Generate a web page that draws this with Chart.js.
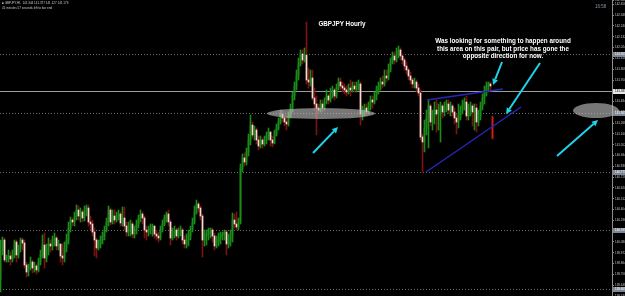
<!DOCTYPE html>
<html>
<head>
<meta charset="utf-8">
<script src="https://cdn.jsdelivr.net/npm/chart.js@4.4.1/dist/chart.umd.min.js"></script>
<style>
body { margin: 0; background: #000; }
#wrap { position: relative; width: 625px; height: 296px; overflow: hidden; background: #000; }
#price-chart { position: absolute; left: 0; top: 0; }
.note { position: absolute; color: #fff; font: bold 6.3px "Liberation Sans", Arial, sans-serif; white-space: nowrap; text-align: center; line-height: 7.5px; }
.info { position: absolute; color: #c8c8c8; font: 3px "Liberation Sans", Arial, sans-serif; white-space: nowrap; line-height: 4px; }
</style>
</head>
<body>
<div id="wrap">
  <canvas id="price-chart" width="625" height="296"></canvas>
  <div class="note" style="left:302px;top:20px;width:80px;">GBPJPY Hourly</div>
  <div class="note" style="left:423px;top:37px;width:160px;">Was looking for something to happen around<br>this area on this pair, but price has gone the<br>opposite direction for now.</div>
  <div class="info" style="left:2px;top:1px;">&#9632; GBPJPY,H1 &nbsp;141.344 141.377 141.127 141.179</div>
  <div class="info" style="left:2px;top:6px;">41 minutes 57 seconds left to bar end</div>
  <div class="info" style="left:595px;top:5px;color:#8a96a4;font-size:4.5px;">16:58</div>
</div>
<script>
// GBPJPY H1 candles, one per bar
const closes = [
  140.00,140.10,139.90,139.92,139.94,139.91,139.95,140.08,139.95,140.02,
  140.10,140.07,139.85,139.78,139.82,139.88,139.82,139.84,139.80,139.88,
  139.95,140.05,139.92,140.00,140.06,140.04,140.10,140.12,140.04,140.06,
  139.94,139.92,140.02,140.10,140.22,140.30,140.28,140.34,140.40,140.34,
  140.38,140.32,140.40,140.42,140.28,140.26,140.18,140.10,140.02,140.06,
  140.10,140.14,140.20,140.28,140.40,140.28,140.34,140.30,140.34,140.36,
  140.27,140.32,140.24,140.18,140.22,140.26,140.16,140.20,140.26,140.32,
  140.36,140.32,140.20,140.18,140.20,140.22,140.24,140.16,140.14,140.12,
  140.20,140.26,140.32,140.36,140.28,140.12,140.16,140.20,140.14,140.18,
  140.20,140.10,140.06,140.10,140.14,140.20,140.28,140.38,140.46,140.42,
  140.34,140.10,140.14,140.16,140.18,140.20,140.14,140.04,140.08,140.12,
  140.14,140.16,140.18,140.06,140.10,140.14,140.30,140.26,140.23,140.28,
  140.82,140.92,140.88,140.98,141.10,141.25,141.15,141.20,141.10,141.04,
  141.10,141.06,141.10,141.14,141.18,141.10,141.07,141.16,141.22,141.28,
  141.36,141.32,141.28,141.26,141.34,141.42,141.54,141.64,141.74,141.86,
  141.96,141.90,141.95,141.70,141.68,141.72,141.52,141.46,141.42,141.40,
  141.46,141.42,141.48,141.54,141.50,141.56,141.60,141.54,141.62,141.68,
  141.64,141.62,141.60,141.58,141.62,141.60,141.64,141.61,141.64,141.66,
  141.36,141.40,141.42,141.38,141.44,141.50,141.48,141.54,141.60,141.64,
  141.68,141.66,141.74,141.72,141.80,141.88,141.94,141.90,141.96,142.00,
  141.94,141.90,141.84,141.80,141.74,141.70,141.66,141.68,141.62,141.57,
  141.13,141.08,141.22,141.32,141.44,141.28,141.34,141.40,141.36,141.40,
  141.44,141.38,141.44,141.46,141.40,141.44,141.38,141.32,141.28,141.34,
  141.40,141.46,141.48,141.34,141.40,141.44,141.38,141.42,141.28,141.34,
  141.44,141.52,141.60,141.64,141.66,141.64,141.12
];
const highs = [
  140.10,140.13,140.12,139.95,140.00,139.98,140.00,140.10,140.10,140.05,
  140.12,140.12,140.10,139.88,139.86,139.93,139.90,139.88,139.86,139.92,
  140.00,140.15,140.17,140.06,140.12,140.10,140.14,140.17,140.14,140.10,
  140.06,140.06,140.08,140.16,140.28,140.33,140.32,140.38,140.45,140.44,
  140.42,140.40,140.44,140.45,140.45,140.34,140.30,140.22,140.12,140.10,
  140.14,140.18,140.24,140.32,140.44,140.42,140.40,140.40,140.38,140.40,
  140.38,140.43,140.43,140.28,140.28,140.30,140.28,140.24,140.30,140.35,
  140.40,140.38,140.34,140.24,140.24,140.26,140.26,140.24,140.20,140.18,
  140.24,140.30,140.35,140.38,140.40,140.30,140.22,140.24,140.22,140.22,
  140.24,140.22,140.14,140.16,140.20,140.24,140.32,140.44,140.50,140.48,
  140.44,140.36,140.20,140.20,140.22,140.22,140.22,140.17,140.14,140.17,
  140.18,140.18,140.20,140.20,140.16,140.20,140.37,140.36,140.38,140.32,
  140.86,140.96,140.97,141.02,141.16,141.35,141.28,141.24,141.22,141.14,
  141.14,141.12,141.14,141.18,141.22,141.18,141.14,141.20,141.26,141.32,
  141.40,141.40,141.34,141.34,141.38,141.46,141.58,141.68,141.80,141.92,
  142.00,142.00,142.02,142.28,141.82,141.80,141.80,141.62,141.54,141.46,
  141.50,141.50,141.52,141.60,141.56,141.62,141.64,141.62,141.66,141.72,
  141.72,141.68,141.66,141.64,141.66,141.70,141.68,141.68,141.68,141.70,
  141.68,141.44,141.46,141.46,141.48,141.54,141.54,141.58,141.64,141.68,
  141.72,141.74,141.80,141.80,141.86,141.92,141.98,141.98,142.02,142.04,
  142.02,141.96,141.92,141.88,141.82,141.78,141.72,141.72,141.70,141.66,
  141.60,141.16,141.30,141.40,141.50,141.46,141.40,141.48,141.50,141.46,
  141.48,141.46,141.48,141.50,141.50,141.48,141.46,141.42,141.36,141.46,
  141.44,141.50,141.52,141.54,141.46,141.48,141.46,141.46,141.46,141.40,
  141.48,141.56,141.64,141.68,141.68,141.68,141.34
];
const lows = [
  139.58,139.95,139.88,139.88,139.88,139.85,139.88,139.92,139.88,139.92,
  139.98,140.00,139.82,139.73,139.74,139.80,139.77,139.78,139.76,139.78,
  139.85,139.92,139.82,139.88,139.95,139.98,140.00,140.04,140.00,140.00,
  139.88,139.85,139.88,139.98,140.06,140.18,140.24,140.24,140.30,140.30,
  140.28,140.28,140.29,140.34,140.24,140.20,140.14,139.94,139.92,140.00,
  140.02,140.06,140.10,140.18,140.24,140.25,140.26,140.26,140.28,140.30,
  140.24,140.24,140.20,140.14,140.14,140.14,140.12,140.12,140.16,140.22,
  140.28,140.26,140.12,140.10,140.14,140.16,140.14,140.12,140.10,140.08,
  140.10,140.18,140.24,140.28,140.24,140.05,140.10,140.12,140.10,140.12,
  140.14,140.06,140.02,140.02,140.04,140.10,140.18,140.26,140.36,140.38,
  140.30,139.93,140.04,140.05,140.10,140.12,140.08,140.00,140.02,140.04,
  140.06,140.10,140.10,139.95,140.02,140.04,140.08,140.22,140.20,140.20,
  140.26,140.78,140.84,140.85,140.94,141.05,141.12,141.10,141.06,141.00,
  141.02,141.02,141.04,141.06,141.10,141.04,141.03,141.06,141.14,141.20,
  141.26,141.28,141.24,141.20,141.24,141.32,141.38,141.50,141.60,141.70,
  141.84,141.86,141.88,141.66,141.62,141.64,141.50,141.40,141.15,141.36,
  141.38,141.38,141.40,141.46,141.46,141.48,141.52,141.50,141.52,141.60,
  141.60,141.58,141.56,141.54,141.56,141.54,141.58,141.58,141.58,141.60,
  141.25,141.30,141.34,141.34,141.36,141.40,141.42,141.46,141.50,141.56,
  141.60,141.62,141.64,141.68,141.70,141.78,141.86,141.86,141.88,141.92,
  141.90,141.86,141.80,141.76,141.70,141.66,141.62,141.62,141.58,141.54,
  141.10,140.78,140.98,141.15,141.02,141.24,141.20,141.26,141.18,141.20,
  141.08,141.32,141.34,141.38,141.36,141.34,141.34,141.26,141.16,141.22,
  141.30,141.36,141.40,141.30,141.30,141.34,141.24,141.20,141.18,141.24,
  141.30,141.40,141.46,141.54,141.58,141.60,141.11
];
// each bar opens at the previous close, except the first and the gapped last one
const firstOpen = 139.70;
const lastOpen = 141.33;
const opens = [firstOpen].concat(closes.slice(0, closes.length - 2), [lastOpen]);

// horizontal lines drawn on the chart (dotted) and the solid one
const dottedLevels = [141.955, 141.365, 140.775, 140.195, 139.605];
const solidLevel = 141.585;

// trend lines: [bar, price, bar, price]
const trendLines = [
  [213.25, 141.50, 251.25, 141.61],
  [212.75, 140.78, 260.25, 141.43]
];
// arrows: tail bar, tail price, head bar, head price
const arrows = [
  [156.25, 140.97, 168.75, 141.23],
  [250.75, 141.88, 246.25, 141.65],
  [269.75, 141.87, 252.75, 141.36],
  [278.25, 140.94, 298.75, 141.30]
];
// shaded zones: centre bar, centre price, half width (bars), half height (price)
const zones = [
  [160.25, 141.365, 27, 0.055],
  [297.75, 141.395, 11.5, 0.075]
];

const lastBar = closes.length - 1;
const isBull = i => closes[i] >= opens[i];

const wickData = closes.map((c, i) => ({ x: i, y: [lows[i], highs[i]] }));
const bodyData = closes.map((c, i) => ({ x: i, y: [opens[i], closes[i]] }));
const bodyColors = closes.map((c, i) => i === lastBar ? '#d41c1c' : isBull(i) ? '#1a8c1a' : '#f2dcd4');
const wickColors = closes.map((c, i) => i === lastBar ? '#8c1414' : isBull(i) ? '#1a8c1a' : '#7c1212');

const xMin = -0.25, xMax = 305.75;

const levelSets = dottedLevels.map(p => ({
  type: 'line', data: [{ x: xMin, y: p }, { x: xMax, y: p }],
  borderColor: '#6e6e6e', borderWidth: 1, borderDash: [1, 2], pointRadius: 0, order: 3
}));
levelSets.push({
  type: 'line', data: [{ x: xMin, y: solidLevel }, { x: xMax, y: solidLevel }],
  borderColor: '#9c9c9c', borderWidth: 1, pointRadius: 0, order: 3
});
const trendSets = trendLines.map(t => ({
  type: 'line', data: [{ x: t[0], y: t[1] }, { x: t[2], y: t[3] }],
  borderColor: '#2626b8', borderWidth: 1.5, pointRadius: 0, order: 0
}));

const overlay = {
  id: 'overlay',
  afterDatasetsDraw(chart) {
    const { ctx, scales: { x, y } } = chart;
    ctx.save();
    // grey zones
    ctx.fillStyle = 'rgba(192,192,192,0.62)';
    zones.forEach(z => {
      const cx = x.getPixelForValue(z[0]), cy = y.getPixelForValue(z[1]);
      const rx = x.getPixelForValue(z[0] + z[2]) - cx;
      const ry = y.getPixelForValue(z[1] - z[3]) - cy;
      ctx.beginPath();
      ctx.ellipse(cx, cy, rx, ry, 0, 0, Math.PI * 2);
      ctx.fill();
    });
    // cyan arrows
    ctx.strokeStyle = '#1fd3e8';
    ctx.fillStyle = '#1fd3e8';
    ctx.lineWidth = 2;
    arrows.forEach(a => {
      const x1 = x.getPixelForValue(a[0]), y1 = y.getPixelForValue(a[1]);
      const x2 = x.getPixelForValue(a[2]), y2 = y.getPixelForValue(a[3]);
      const ang = Math.atan2(y2 - y1, x2 - x1);
      const hl = 6, hw = 3;
      const bx = x2 - hl * Math.cos(ang), by = y2 - hl * Math.sin(ang);
      ctx.beginPath();
      ctx.moveTo(x1, y1);
      ctx.lineTo(bx, by);
      ctx.stroke();
      ctx.beginPath();
      ctx.moveTo(x2, y2);
      ctx.lineTo(bx + hw * Math.sin(ang), by - hw * Math.cos(ang));
      ctx.lineTo(bx - hw * Math.sin(ang), by + hw * Math.cos(ang));
      ctx.closePath();
      ctx.fill();
    });
    ctx.restore();
  },
  afterDraw(chart) {
    const { ctx, scales: { y } } = chart;
    const left = chart.chartArea.right + 1;
    ctx.save();
    ctx.font = '3px "Liberation Sans", Arial, sans-serif';
    ctx.textBaseline = 'middle';
    const tag = (p, bg, fg) => {
      const py = y.getPixelForValue(p);
      ctx.fillStyle = bg;
      ctx.fillRect(left, py - 2.5, 625 - left, 5);
      ctx.fillStyle = fg;
      ctx.fillText(p.toFixed(3), left + 2, py);
    };
    dottedLevels.forEach(p => tag(p, '#7d8894', '#ffffff'));
    tag(solidLevel, '#e8e8e8', '#000000');
    ctx.restore();
  }
};

new Chart(document.getElementById('price-chart'), {
  type: 'bar',
  data: {
    datasets: [
      { data: bodyData, backgroundColor: bodyColors, barThickness: 1, minBarLength: 1, grouped: false, borderWidth: 0, order: 1 },
      { data: wickData, backgroundColor: wickColors, barThickness: 1, grouped: false, borderWidth: 0, order: 2 }
    ].concat(levelSets, trendSets)
  },
  options: {
    responsive: false,
    animation: false,
    events: [],
    layout: { padding: 0 },
    plugins: { legend: { display: false }, tooltip: { enabled: false } },
    scales: {
      x: { type: 'linear', min: xMin, max: xMax, bounds: 'data', offset: false, display: false },
      y: {
        position: 'right',
        min: 139.54,
        max: 142.50,
        bounds: 'data',
        afterFit(s) { s.width = 13; s.paddingTop = 0; s.paddingBottom = 0; },
        border: { display: true, color: '#8a8a8a' },
        grid: { drawOnChartArea: false, color: '#8a8a8a', tickLength: 2 },
        ticks: {
          stepSize: 0.108, maxTicksLimit: 40, includeBounds: false, padding: 1,
          color: '#c8c8c8', font: { size: 3, family: 'Liberation Sans' },
          callback: v => v.toFixed(3)
        }
      }
    }
  },
  plugins: [overlay]
});
</script>
</body>
</html>
